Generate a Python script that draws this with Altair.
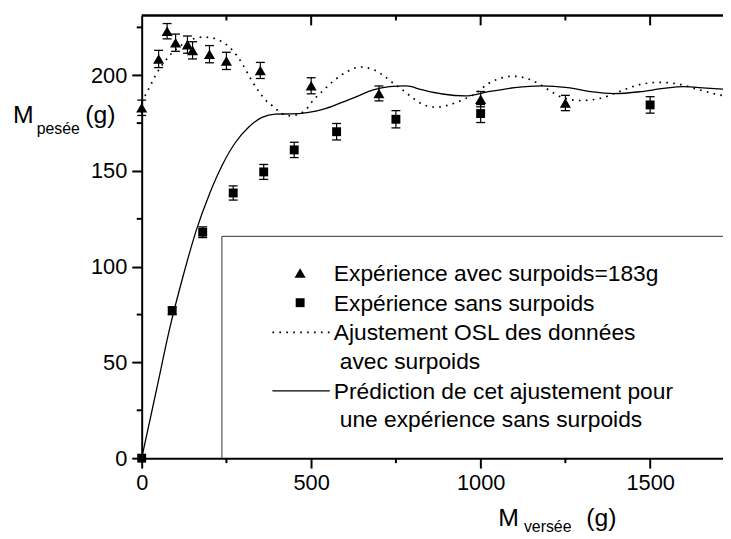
import altair as alt
import pandas as pd

# ---------------- data ----------------
# Expérience avec surpoids = 183 g (triangles)
tri_x = [0, 50, 75, 100, 135, 150, 200, 250, 350, 500, 700, 1000, 1250]
tri_y = [183, 208.5, 223, 217, 216, 213, 211, 207.5, 202.5, 194.5, 190.5, 187.5, 185.5]
tri_err = [4, 4.5, 4, 4.5, 4.5, 4.5, 4.5, 4.5, 4.2, 4.2, 3.9, 4, 4]

# Expérience sans surpoids (squares)
sq_x = [0, 90, 180, 270, 360, 450, 575, 750, 1000, 1500]
sq_y = [0, 77, 118, 138.5, 149.5, 161, 170.5, 177, 180, 184.5]
sq_err = [0, 2, 2.8, 3.7, 3.9, 4, 4.3, 4.5, 4.7, 4.3]

# Ajustement OSL (dotted)
fit_x = [0, 24, 44, 63, 83, 112, 141, 180, 209, 239, 268, 297, 321, 346, 370, 386,
         405, 439, 478, 507, 537, 575, 605, 644, 683, 712, 741, 770, 795, 829, 868,
         907, 946, 985, 1023, 1062, 1092, 1131, 1170, 1209, 1247, 1296, 1355, 1413,
         1471, 1530, 1588, 1647, 1705, 1715]
fit_y = [186, 194, 201, 206, 210.4, 215, 218.2, 219.9, 219.5, 217.3, 213, 206, 198.3,
         191.4, 186.2, 184, 181, 178.8, 181, 187.1, 192.3, 198.3, 201.8, 204.3, 203,
         200, 196, 192.3, 188.8, 184.8, 183.3, 184.5, 187.1, 190.5, 195.7, 198.6,
         199.5, 198.6, 195.7, 191.4, 188, 186.8, 188, 191.8, 195.2, 196.3, 195.2,
         192.3, 189.7, 189.4]

# Prédiction sans surpoids (solid)
pred_x = [0, 44, 83, 122, 161, 200, 239, 277, 316, 355, 394, 440, 488, 537, 585, 634,
          683, 731, 780, 829, 887, 955, 1023, 1101, 1179, 1257, 1325, 1393, 1471,
          1540, 1598, 1666, 1715]
pred_y = [0, 36, 68, 95, 119, 138, 153.5, 165, 173, 178, 179.7, 179.8, 180.5, 182.3,
          185.4, 188.8, 192.3, 194, 194.4, 192.3, 190.2, 189.2, 191.4, 193.5, 194.4,
          193.5, 191.4, 190.4, 191.4, 193.1, 194, 193.3, 192.8]

x_major = [0, 500, 1000, 1500]
x_minor = [250, 750, 1250]
y_major = [0, 50, 100, 150, 200]
y_minor = [25, 75, 125, 175, 225]

legend_labels = [
    "Expérience avec surpoids=183g",
    "Expérience sans surpoids",
    "Ajustement OSL des données",
    "avec surpoids",
    "Prédiction de cet ajustement pour",
    "une expérience sans surpoids",
]

# ---------------- chart ----------------
W, H = 587, 447
FONT = "Liberation Sans"
xs = alt.Scale(domain=[0, 1715], nice=False, zero=False)
ys = alt.Scale(domain=[0, 231.2], nice=False, zero=False)

common_axis = dict(tickSize=10, tickWidth=2, domainWidth=2, domainColor="black",
                   tickColor="black", labelFont=FONT, labelFontSize=22,
                   labelColor="black", labelPadding=5, labelFlush=False,
                   labelOverlap=False, grid=False, title=None, format="d")
xaxis = alt.Axis(values=x_major, **common_axis)
yaxis = alt.Axis(values=y_major, **common_axis)


def X(f):
    return alt.X(f, type="quantitative", scale=xs, axis=xaxis)


def Y(f):
    return alt.Y(f, type="quantitative", scale=ys, axis=yaxis)


tri = pd.DataFrame({"x": tri_x, "y": tri_y, "e": tri_err})
tri["lo"] = tri["y"] - tri["e"]
tri["hi"] = tri["y"] + tri["e"]
sq = pd.DataFrame({"x": sq_x, "y": sq_y, "e": sq_err})
sq["lo"] = sq["y"] - sq["e"]
sq["hi"] = sq["y"] + sq["e"]
sq_eb = sq[sq["e"] > 0]
fit = pd.DataFrame({"x": fit_x, "y": fit_y})
pred = pd.DataFrame({"x": pred_x, "y": pred_y})

layers = []

pred_line = alt.Chart(pred).mark_line(color="black", strokeWidth=1.3,
                                      interpolate="monotone").encode(x=X("x"), y=Y("y"))
fit_line = alt.Chart(fit).mark_line(color="black", strokeWidth=1.7, strokeDash=[1.7, 5.3],
                                    interpolate="monotone").encode(x=X("x"), y=Y("y"))
layers += [pred_line, fit_line]

for df in (tri, sq_eb):
    layers.append(alt.Chart(df).mark_rule(color="black", strokeWidth=1.2)
                  .encode(x=X("x"), y=Y("lo"), y2="hi"))
    for f in ("lo", "hi"):
        layers.append(alt.Chart(df).mark_tick(orient="horizontal", size=9, thickness=1.3,
                                              color="black", opacity=1)
                      .encode(x=X("x"), y=Y(f)))

layers.append(alt.Chart(tri).mark_point(shape="triangle-up", filled=True, size=125,
                                        color="black", opacity=1)
              .encode(x=X("x"), y=Y("y")))
layers.append(alt.Chart(sq).mark_point(shape="square", filled=True, size=81,
                                       color="black", opacity=1)
              .encode(x=X("x"), y=Y("y")))

# minor ticks and the top frame with inward ticks
xmin_df = pd.DataFrame({"v": x_minor})
xmaj_df = pd.DataFrame({"v": x_major[1:]})
ymin_df = pd.DataFrame({"v": y_minor})
one = pd.DataFrame({"a": [0]})

layers.append(alt.Chart(xmin_df).mark_rule(color="black", strokeWidth=2)
              .encode(x=X("v"), y=alt.value(H), y2=alt.value(H + 5)))
layers.append(alt.Chart(ymin_df).mark_rule(color="black", strokeWidth=2)
              .encode(y=Y("v"), x=alt.value(-5), x2=alt.value(0)))
layers.append(alt.Chart(one).mark_rule(color="black", strokeWidth=2.5)
              .encode(x=alt.value(0), x2=alt.value(W), y=alt.value(0)))
layers.append(alt.Chart(xmaj_df).mark_rule(color="black", strokeWidth=2)
              .encode(x=X("v"), y=alt.value(0), y2=alt.value(10)))
layers.append(alt.Chart(xmin_df).mark_rule(color="black", strokeWidth=2)
              .encode(x=X("v"), y=alt.value(0), y2=alt.value(5)))

# legend box
BX, BY = 81, 223
layers.append(alt.Chart(one).mark_rule(color="#333333", strokeWidth=1)
              .encode(x=alt.value(BX), x2=alt.value(W), y=alt.value(BY)))
layers.append(alt.Chart(one).mark_rule(color="#333333", strokeWidth=1)
              .encode(x=alt.value(BX), y=alt.value(BY), y2=alt.value(H)))

# legend symbols
layers.append(alt.Chart(one).mark_point(shape="triangle-up", filled=True, size=125,
                                        color="black", opacity=1)
              .encode(x=alt.value(160), y=alt.value(260)))
layers.append(alt.Chart(one).mark_point(shape="square", filled=True, size=81,
                                        color="black", opacity=1)
              .encode(x=alt.value(160), y=alt.value(290)))
layers.append(alt.Chart(one).mark_rule(color="black", strokeWidth=1.6, strokeDash=[1.7, 5.3])
              .encode(x=alt.value(132), x2=alt.value(190), y=alt.value(320)))
layers.append(alt.Chart(one).mark_rule(color="black", strokeWidth=1.2)
              .encode(x=alt.value(132), x2=alt.value(190), y=alt.value(379)))

leg_x = [194, 194, 194, 200, 194, 200]
leg_y = [268, 298, 328, 357, 387, 416]
for lab, lx, ly in zip(legend_labels, leg_x, leg_y):
    layers.append(alt.Chart(pd.DataFrame({"t": [lab]}))
                  .mark_text(align="left", baseline="alphabetic", font=FONT, fontSize=23,
                             color="black")
                  .encode(x=alt.value(lx), y=alt.value(ly), text="t:N"))


def label(txt, px, py, size):
    return (alt.Chart(pd.DataFrame({"t": [txt]}))
            .mark_text(align="left", baseline="alphabetic", font=FONT, fontSize=size,
                       color="black")
            .encode(x=alt.value(px), y=alt.value(py), text="t:N"))


# axis titles (with subscripts)
layers += [label("M", -130, 109, 25), label("pesée", -106, 120, 16), label("(g)", -57, 109, 25)]
layers += [label("M", 360, 515, 25), label("versée", 386, 522, 16), label("(g)", 449, 515, 25)]

chart = alt.layer(*layers).properties(
    width=W, height=H,
    autosize=alt.AutoSizeParams(type="none"),
    padding={"left": 135, "top": 5, "right": 0, "bottom": 74},
    background="white",
).configure_view(stroke=None)

chart.save("out.html", embed_options={"renderer": "svg", "actions": False})
